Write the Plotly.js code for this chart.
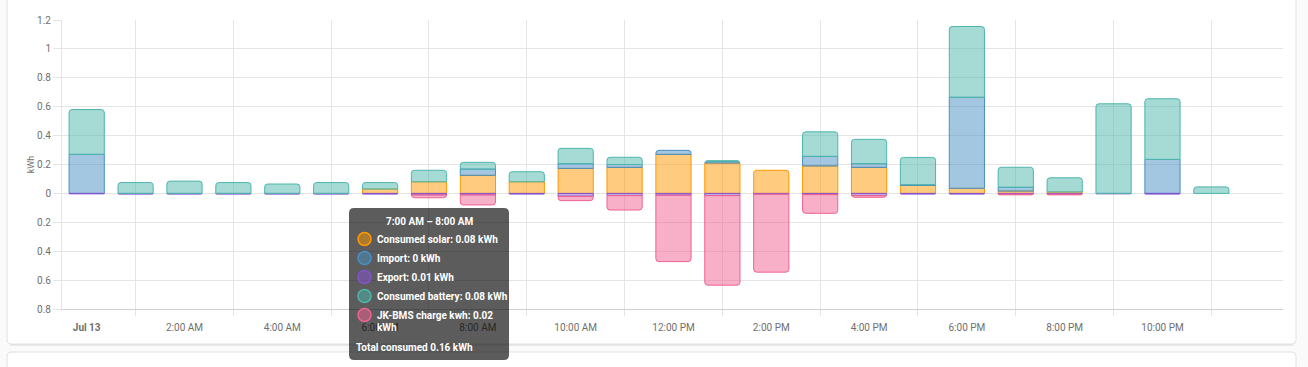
<!DOCTYPE html>
<html>
<head>
<meta charset="utf-8">
<script src="https://cdn.plot.ly/plotly-3.0.1.min.js"></script>
<style>html,body{margin:0;padding:0;background:#fafafa;}#chart{width:1308px;height:367px;}</style>
</head>
<body>
<div id="chart"></div>
<script>
// Hours of the day (bar positions)
const hours = [0,1,2,3,4,5,6,7,8,9,10,11,12,13,14,15,16,17,18,19,20,21,22,23];
const tickHours = [0,2,4,6,8,10,12,14,16,18,20,22];
const tickLabels = ["<b>Jul 13</b>","2:00 AM","4:00 AM","6:00 AM","8:00 AM","10:00 AM","12:00 PM","2:00 PM","4:00 PM","6:00 PM","8:00 PM","10:00 PM"];
const gridHours = [1,3,5,7,9,11,13,15,17,19,21,23];

// kWh per hour
const consumedSolar   = [0,0,0,0,0,0,0.03,0.08,0.125,0.08,0.173,0.18,0.27,0.21,0.16,0.19,0.18,0.055,0.035,0.016,0.01,0,0,0];
const gridImport      = [0.27,0,0,0,0,0,0,0,0.043,0,0.032,0.02,0.028,0.012,0,0.066,0.026,0.004,0.63,0.026,0,0,0.235,0];
const gridExport      = [0.003,0.005,0.005,0.005,0.005,0.005,0.005,0.01,0.01,0.005,0.02,0.015,0.012,0.015,0.005,0.008,0.015,0.005,0.005,0.005,0.005,0.003,0.005,0];
const consumedBattery = [0.31,0.075,0.085,0.075,0.065,0.075,0.045,0.08,0.047,0.07,0.107,0.05,0,0.004,0,0.17,0.168,0.19,0.49,0.139,0.098,0.62,0.42,0.045];
const bmsCharge       = [0,0,0,0,0,0,0,0.02,0.07,0,0.03,0.10,0.46,0.62,0.54,0.13,0.012,0,0,0.005,0.005,0,0,0];

const yTickVals = [-0.8,-0.6,-0.4,-0.2,0,0.2,0.4,0.6,0.8,1,1.2];
const yTickText = ["0.8","0.6","0.4","0.2","0","0.2","0.4","0.6","0.8","1","1.2"];

const tipHour = 7;
const tipTitle = "7:00 AM – 8:00 AM";

const C = {
  solar: "#ff9800", imp: "#488fc2", exp: "#8353d1", bat: "#4db6ac", bms: "#f06292"
};
function rgba(hex, a){
  const n = parseInt(hex.slice(1),16);
  return `rgba(${(n>>16)&255},${(n>>8)&255},${n&255},${a})`;
}
function barTrace(name, vals, color, sign){
  return {
    type: "bar", name: name, x: hours, y: vals.map(v => v === 0 ? null : sign*v),
    width: 0.72,
    marker: {color: rgba(color,0.5), line: {color: color, width: 1}},
    hoverinfo: "skip"
  };
}
const traces = [
  barTrace("Consumed solar", consumedSolar, C.solar, 1),
  barTrace("Import", gridImport, C.imp, 1),
  barTrace("Export", gridExport, C.exp, -1),
  barTrace("Consumed battery", consumedBattery, C.bat, 1),
  barTrace("JK-BMS charge kwh", bmsCharge, C.bms, -1)
];

// pixel -> paper helpers (plot area 62..1283 x 20..309)
const L=62, R=1283, T=20, B=309;
const px = x => (x-L)/(R-L);
const py = y => (B-y)/(B-T);
function roundRect(x0,y0,x1,y1,r){
  const p = (x,y) => `${px(x)},${py(y)}`;
  return `M ${p(x0+r,y0)} L ${p(x1-r,y0)} Q ${p(x1,y0)} ${p(x1,y0+r)} L ${p(x1,y1-r)} Q ${p(x1,y1)} ${p(x1-r,y1)} L ${p(x0+r,y1)} Q ${p(x0,y1)} ${p(x0,y1-r)} L ${p(x0,y0+r)} Q ${p(x0,y0)} ${p(x0+r,y0)} Z`;
}

const shapes = [
  {type:"path", xref:"paper", yref:"paper", path: roundRect(7,-10,1296,344,4), fillcolor:"#ffffff", line:{color:"#e2e2e2", width:1}, layer:"below"},
  {type:"line", xref:"paper", yref:"paper", x0:px(10), x1:px(1293), y0:py(345), y1:py(345), line:{color:"#d9d9d9", width:1}, layer:"below"},
  {type:"path", xref:"paper", yref:"paper", path: roundRect(7,352,1296,390,4), fillcolor:"#ffffff", line:{color:"#e2e2e2", width:1}, layer:"below"},
  {type:"path", xref:"paper", yref:"paper", path: roundRect(349,208,509,360,5), fillcolor:"rgba(0,0,0,0.64)", line:{width:0}, layer:"above"}
];

const fmt = v => String(Math.round(v*100)/100);
const tipRows = [
  {label:"Consumed solar: " + fmt(consumedSolar[tipHour]) + " kWh", color:C.solar, y:239},
  {label:"Import: " + fmt(gridImport[tipHour]) + " kWh", color:C.imp, y:258},
  {label:"Export: " + fmt(gridExport[tipHour]) + " kWh", color:C.exp, y:277},
  {label:"Consumed battery: " + fmt(consumedBattery[tipHour]) + " kWh", color:C.bat, y:296},
  {label:"JK-BMS charge kwh: " + fmt(bmsCharge[tipHour]), color:C.bms, y:315, extra:"kWh"}
];
const total = consumedSolar[tipHour] + gridImport[tipHour] + consumedBattery[tipHour];

const tipFont = {family:"Roboto, sans-serif", size:10, color:"#ffffff", weight:"bold"};
const annotations = [
  {xref:"paper", yref:"paper", x:px(429), y:py(221), text:tipTitle, showarrow:false, xanchor:"center", yanchor:"middle", font:tipFont}
];
tipRows.forEach(r => {
  shapes.push({type:"circle", xref:"paper", yref:"paper", x0:px(358), x1:px(371), y0:py(r.y-6.5), y1:py(r.y+6.5), fillcolor:rgba(r.color,0.5), line:{color:r.color, width:1.5}, layer:"above"});
  annotations.push({xref:"paper", yref:"paper", x:px(375), y:py(r.y), text:r.label, showarrow:false, xanchor:"left", yanchor:"middle", font:tipFont});
  if(r.extra) annotations.push({xref:"paper", yref:"paper", x:px(375), y:py(r.y+13), text:r.extra, showarrow:false, xanchor:"left", yanchor:"middle", font:tipFont});
});
annotations.push({xref:"paper", yref:"paper", x:px(354), y:py(347), text:"Total consumed " + fmt(total) + " kWh", showarrow:false, xanchor:"left", yanchor:"middle", font:tipFont});

const layout = {
  width: 1308, height: 367,
  margin: {l:L, r:1308-R, t:T, b:367-B, pad:0},
  paper_bgcolor: "#fafafa",
  plot_bgcolor: "rgba(0,0,0,0)",
  barmode: "relative",
  barcornerradius: 3,
  showlegend: false,
  hovermode: false,
  font: {family:"Roboto, sans-serif", size:10, color:"#6f6f6f"},
  xaxis: {
    range: [-0.505, 24.465],
    tickmode: "array", tickvals: tickHours, ticktext: tickLabels,
    ticks: "", showgrid: false, zeroline: false,
    ticklabelstandoff: 9,
    showline: true, linecolor: "#d0d0d0", linewidth: 1,
    tickfont: {size:10, color:"#6f6f6f"},
    minor: {tickmode:"array", tickvals: gridHours, showgrid: true, gridcolor:"#e5e5e5", gridwidth:1, ticks:"outside", ticklen:6, tickcolor:"#e5e5e5"}
  },
  yaxis: {
    range: [-0.8, 1.2],
    tickmode: "array", tickvals: yTickVals, ticktext: yTickText,
    ticks: "outside", ticklen: 8, tickcolor: "#e5e5e5",
    showgrid: true, gridcolor: "#e5e5e5", gridwidth: 1,
    zeroline: false,
    showline: true, linecolor: "#e5e5e5",
    tickfont: {size:10, color:"#6f6f6f"},
    title: {text:"kWh", font:{size:9, color:"#6f6f6f"}, standoff: 0}
  },
  shapes: shapes,
  annotations: annotations
};

Plotly.newPlot("chart", traces, layout, {displayModeBar:false, staticPlot:true});
</script>
</body>
</html>
